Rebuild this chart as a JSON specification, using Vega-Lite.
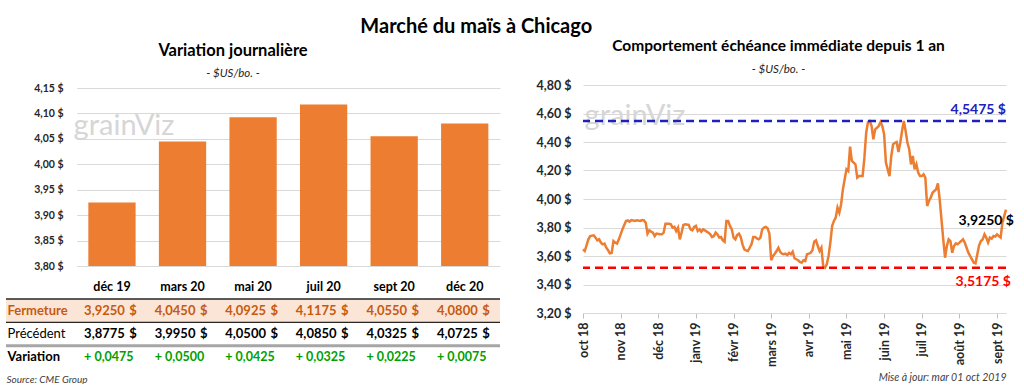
{
  "$schema": "https://vega.github.io/schema/vega-lite/v6.json",
  "padding": {"left": 4, "top": 17, "right": 0, "bottom": 0},
  "spacing": 34,
  "title": {"text": "Marché du maïs à Chicago", "font": "Lato", "fontSize": 20, "fontWeight": "bold", "color": "#000000", "anchor": "middle", "dx": -33, "offset": 2},
  "datasets": {
    "tableau": [
      {"contrat": "déc 19", "ligne": "Fermeture", "valeur": 3.925},
      {"contrat": "mars 20", "ligne": "Fermeture", "valeur": 4.045},
      {"contrat": "mai 20", "ligne": "Fermeture", "valeur": 4.0925},
      {"contrat": "juil 20", "ligne": "Fermeture", "valeur": 4.1175},
      {"contrat": "sept 20", "ligne": "Fermeture", "valeur": 4.055},
      {"contrat": "déc 20", "ligne": "Fermeture", "valeur": 4.08},
      {"contrat": "déc 19", "ligne": "Précédent", "valeur": 3.8775},
      {"contrat": "mars 20", "ligne": "Précédent", "valeur": 3.995},
      {"contrat": "mai 20", "ligne": "Précédent", "valeur": 4.05},
      {"contrat": "juil 20", "ligne": "Précédent", "valeur": 4.085},
      {"contrat": "sept 20", "ligne": "Précédent", "valeur": 4.0325},
      {"contrat": "déc 20", "ligne": "Précédent", "valeur": 4.0725},
      {"contrat": "déc 19", "ligne": "Variation", "valeur": 0.0475},
      {"contrat": "mars 20", "ligne": "Variation", "valeur": 0.05},
      {"contrat": "mai 20", "ligne": "Variation", "valeur": 0.0425},
      {"contrat": "juil 20", "ligne": "Variation", "valeur": 0.0325},
      {"contrat": "sept 20", "ligne": "Variation", "valeur": 0.0225},
      {"contrat": "déc 20", "ligne": "Variation", "valeur": 0.0075}
    ],
    "cours": [
      {"t":0,"v":3.647},{"t":1,"v":3.635},{"t":3,"v":3.717},{"t":4,"v":3.740},{"t":6,"v":3.745},{"t":7,"v":3.729},{"t":8,"v":3.710},{"t":9,"v":3.717},{"t":10,"v":3.694},{"t":11,"v":3.682},
      {"t":12,"v":3.687},{"t":13,"v":3.658},{"t":14,"v":3.640},{"t":15,"v":3.619},{"t":16,"v":3.621},{"t":17,"v":3.705},{"t":18,"v":3.694},{"t":19,"v":3.687},{"t":20,"v":3.717},{"t":21,"v":3.752},
      {"t":22,"v":3.787},{"t":23,"v":3.818},{"t":24,"v":3.846},{"t":25,"v":3.850},{"t":26,"v":3.841},{"t":27,"v":3.852},{"t":29,"v":3.846},{"t":30,"v":3.850},{"t":32,"v":3.846},{"t":33,"v":3.852},
      {"t":34,"v":3.850},{"t":35,"v":3.834},{"t":36,"v":3.757},{"t":37,"v":3.780},{"t":38,"v":3.771},{"t":39,"v":3.764},{"t":40,"v":3.740},{"t":41,"v":3.757},{"t":43,"v":3.752},{"t":44,"v":3.752},
      {"t":45,"v":3.764},{"t":46,"v":3.827},{"t":48,"v":3.827},{"t":49,"v":3.822},{"t":50,"v":3.799},{"t":51,"v":3.804},{"t":52,"v":3.775},{"t":53,"v":3.799},{"t":54,"v":3.717},{"t":55,"v":3.764},
      {"t":56,"v":3.818},{"t":57,"v":3.822},{"t":59,"v":3.818},{"t":60,"v":3.787},{"t":61,"v":3.780},{"t":62,"v":3.804},{"t":63,"v":3.811},{"t":64,"v":3.775},{"t":65,"v":3.787},{"t":66,"v":3.771},
      {"t":67,"v":3.787},{"t":68,"v":3.780},{"t":70,"v":3.764},{"t":71,"v":3.752},{"t":72,"v":3.733},{"t":73,"v":3.740},{"t":74,"v":3.764},{"t":75,"v":3.752},{"t":76,"v":3.729},{"t":77,"v":3.733},
      {"t":78,"v":3.710},{"t":79,"v":3.700},{"t":80,"v":3.846},{"t":81,"v":3.846},{"t":82,"v":3.811},{"t":83,"v":3.787},{"t":84,"v":3.729},{"t":85,"v":3.717},{"t":86,"v":3.747},{"t":87,"v":3.757},
      {"t":88,"v":3.733},{"t":89,"v":3.682},{"t":90,"v":3.647},{"t":91,"v":3.640},{"t":92,"v":3.635},{"t":93,"v":3.658},{"t":94,"v":3.682},{"t":95,"v":3.733},{"t":96,"v":3.733},{"t":97,"v":3.724},
      {"t":98,"v":3.717},{"t":99,"v":3.729},{"t":100,"v":3.787},{"t":101,"v":3.799},{"t":102,"v":3.804},{"t":103,"v":3.794},{"t":104,"v":3.757},{"t":105,"v":3.570},{"t":106,"v":3.600},{"t":107,"v":3.616},
      {"t":108,"v":3.635},{"t":109,"v":3.658},{"t":110,"v":3.630},{"t":111,"v":3.616},{"t":112,"v":3.612},{"t":113,"v":3.616},{"t":114,"v":3.607},{"t":115,"v":3.621},{"t":116,"v":3.612},{"t":117,"v":3.630},
      {"t":118,"v":3.584},{"t":119,"v":3.577},{"t":120,"v":3.570},{"t":121,"v":3.558},{"t":122,"v":3.553},{"t":123,"v":3.570},{"t":124,"v":3.565},{"t":125,"v":3.612},{"t":126,"v":3.616},{"t":127,"v":3.623},
      {"t":128,"v":3.640},{"t":129,"v":3.701},{"t":130,"v":3.710},{"t":131,"v":3.670},{"t":132,"v":3.635},{"t":133,"v":3.658},{"t":134,"v":3.530},{"t":135,"v":3.5175},{"t":136,"v":3.542},{"t":137,"v":3.600},
      {"t":138,"v":3.694},{"t":139,"v":3.811},{"t":140,"v":3.846},{"t":141,"v":3.869},{"t":142,"v":3.939},{"t":143,"v":3.904},{"t":144,"v":3.963},{"t":145,"v":4.068},{"t":146,"v":4.138},{"t":147,"v":4.208},
      {"t":148,"v":4.196},{"t":149,"v":4.367},{"t":150,"v":4.267},{"t":151,"v":4.255},{"t":152,"v":4.243},{"t":153,"v":4.150},{"t":154,"v":4.161},{"t":155,"v":4.161},{"t":156,"v":4.161},{"t":157,"v":4.290},
      {"t":158,"v":4.465},{"t":159,"v":4.540},{"t":160,"v":4.5475},{"t":161,"v":4.512},{"t":162,"v":4.419},{"t":163,"v":4.489},{"t":164,"v":4.500},{"t":165,"v":4.512},{"t":166,"v":4.540},{"t":167,"v":4.512},
      {"t":168,"v":4.454},{"t":169,"v":4.255},{"t":170,"v":4.208},{"t":171,"v":4.161},{"t":172,"v":4.302},{"t":173,"v":4.384},{"t":174,"v":4.395},{"t":175,"v":4.400},{"t":176,"v":4.330},{"t":177,"v":4.395},
      {"t":178,"v":4.477},{"t":179,"v":4.5475},{"t":180,"v":4.477},{"t":181,"v":4.395},{"t":182,"v":4.349},{"t":183,"v":4.243},{"t":184,"v":4.302},{"t":185,"v":4.208},{"t":186,"v":4.243},{"t":187,"v":4.185},
      {"t":188,"v":4.161},{"t":189,"v":4.161},{"t":190,"v":4.173},{"t":191,"v":4.150},{"t":192,"v":3.951},{"t":193,"v":3.986},{"t":194,"v":4.009},{"t":195,"v":4.044},{"t":196,"v":4.056},{"t":197,"v":4.068},
      {"t":198,"v":4.110},{"t":199,"v":3.998},{"t":200,"v":3.857},{"t":201,"v":3.717},{"t":202,"v":3.588},{"t":203,"v":3.670},{"t":204,"v":3.717},{"t":205,"v":3.705},{"t":206,"v":3.623},{"t":207,"v":3.670},
      {"t":208,"v":3.689},{"t":209,"v":3.682},{"t":210,"v":3.694},{"t":211,"v":3.705},{"t":212,"v":3.717},{"t":213,"v":3.694},{"t":214,"v":3.658},{"t":215,"v":3.623},{"t":216,"v":3.600},{"t":217,"v":3.577},
      {"t":218,"v":3.553},{"t":219,"v":3.549},{"t":220,"v":3.612},{"t":221,"v":3.675},{"t":222,"v":3.705},{"t":223,"v":3.717},{"t":224,"v":3.752},{"t":225,"v":3.729},{"t":226,"v":3.694},{"t":227,"v":3.729},
      {"t":228,"v":3.722},{"t":229,"v":3.740},{"t":230,"v":3.736},{"t":231,"v":3.752},{"t":232,"v":3.740},{"t":233,"v":3.729},{"t":234,"v":3.834},{"t":235,"v":3.880},{"t":236,"v":3.925}
    ]
  },
  "hconcat": [
    {
      "width": 494,
      "height": 284,
      "title": {"text": "Variation journalière", "subtitle": "- $US/bo. -", "anchor": "middle", "frame": "group", "dx": -20, "font": "Lato", "fontSize": 16.5, "fontWeight": "bold", "color": "#000000", "subtitleFont": "Lato", "subtitleFontSize": 11.5, "subtitleFontStyle": "italic", "subtitleColor": "#262626", "subtitlePadding": 8, "offset": 4},
      "data": {"name": "tableau"},
      "layer": [
        {
          "layer": [
            {
              "transform": [{"filter": "datum.ligne === 'Fermeture'"}],
              "mark": {"type": "bar", "color": "#ED7D31"},
              "encoding": {
                "x": {"field": "contrat", "type": "nominal", "sort": null,
                  "scale": {"range": [70.7, 494], "paddingInner": 0.33, "paddingOuter": 0.165},
                  "axis": {"orient": "bottom", "offset": -103, "title": null, "domain": false, "ticks": false, "tickSize": 0, "labelPadding": 14, "labelAngle": 0, "labelFont": "Lato", "labelFontSize": 12.5, "labelFontWeight": "bold", "labelColor": "#000000"}},
                "y": {"field": "valeur", "type": "quantitative",
                  "scale": {"domain": [3.8, 4.15], "range": [181, 3], "zero": false, "nice": false},
                  "axis": {"orient": "left", "offset": -71, "title": null, "values": [3.8, 3.85, 3.9, 3.95, 4.0, 4.05, 4.1, 4.15], "tickCount": 20, "format": "$.2f", "labelOverlap": false, "domain": false, "ticks": false, "tickSize": 0, "labelPadding": 14, "grid": true, "gridColor": "#d9d9d9", "labelFont": "Lato", "labelFontSize": 10.5, "labelFontWeight": "bold", "labelColor": "#262626"}},
                "y2": {"datum": 3.8}
              }
            },
            {
              "data": {"values": [{"logo": "grainViz"}]},
              "mark": {"type": "text", "font": "Lato", "fontSize": 29, "color": "#d6d6d6", "align": "center", "baseline": "middle", "dx": 12},
              "encoding": {
                "x": {"datum": "déc 19", "type": "nominal"},
                "y": {"datum": 4.075, "type": "quantitative"},
                "text": {"field": "logo"}
              }
            }
          ]
        },
        {
          "encoding": {
            "y": {"field": "ligne", "type": "nominal", "sort": null,
              "scale": {"domain": ["Fermeture", "Précédent", "Variation"], "range": [214, 284], "paddingInner": 0, "paddingOuter": 0},
              "axis": {"orient": "left", "title": null, "domain": false, "ticks": false, "tickSize": 0, "grid": false, "labelAlign": "left", "labelPadding": -1, "labelFont": "Lato", "labelFontSize": 13,
                "labelColor": {"condition": {"test": "datum.value === 'Fermeture'", "value": "#C55A11"}, "value": "#000000"},
                "labelFontWeight": {"condition": {"test": "datum.value === 'Précédent'", "value": "normal"}, "value": "bold"}}}
          },
          "layer": [
            {
              "transform": [{"aggregate": [{"op": "count", "as": "n"}], "groupby": ["ligne"]}],
              "layer": [
                {
                  "transform": [{"filter": "datum.ligne === 'Fermeture'"}],
                  "mark": {"type": "rect", "color": "#FBE5D6"}
                },
                {
                  "mark": {"type": "rule"},
                  "encoding": {
                    "y": {"field": "ligne", "type": "nominal", "bandPosition": 0},
                    "color": {"condition": {"test": "datum.ligne === 'Variation'", "value": "#a6a6a6"}, "value": "#262626"},
                    "strokeWidth": {"condition": {"test": "datum.ligne === 'Variation'", "value": 3}, "value": 1.3}
                  }
                }
              ]
            },
            {
              "encoding": {
                "x": {"field": "contrat", "type": "nominal",
                  "scale": {"domain": ["", "déc 19", "mars 20", "mai 20", "juil 20", "sept 20", "déc 20"], "range": [0, 494], "paddingInner": 0, "paddingOuter": 0},
                  "axis": {"orient": "bottom", "labels": false, "ticks": false, "domain": false, "grid": false, "title": "Source: CME Group", "titleAnchor": "start", "titleFont": "Lato", "titleFontSize": 10, "titleFontStyle": "italic", "titleFontWeight": "normal", "titleColor": "#404040", "titlePadding": 5}}
              },
              "layer": [
                {
                  "transform": [{"filter": "datum.ligne !== 'Variation'"}],
                  "mark": {"type": "text", "font": "Lato", "fontSize": 13, "fontWeight": "bold", "align": "right", "baseline": "middle", "dx": 13},
                  "encoding": {
                    "text": {"field": "valeur", "type": "quantitative", "format": ".4f"},
                    "color": {"condition": {"test": "datum.ligne === 'Fermeture'", "value": "#C55A11"}, "value": "#000000"}
                  }
                },
                {
                  "transform": [{"filter": "datum.ligne !== 'Variation'"}],
                  "mark": {"type": "text", "font": "Lato", "fontSize": 13, "fontWeight": "bold", "align": "right", "baseline": "middle", "dx": 25},
                  "encoding": {
                    "text": {"value": "$"},
                    "color": {"condition": {"test": "datum.ligne === 'Fermeture'", "value": "#C55A11"}, "value": "#000000"}
                  }
                },
                {
                  "transform": [{"filter": "datum.ligne === 'Variation'"}],
                  "mark": {"type": "text", "font": "Lato", "fontSize": 12.5, "fontWeight": "bold", "align": "center", "baseline": "middle", "dx": -3, "color": "#00A000"},
                  "encoding": {
                    "text": {"field": "valeur", "type": "quantitative", "format": "=+8.4f"}
                  }
                }
              ]
            }
          ]
        }
      ],
      "resolve": {"scale": {"x": "independent", "y": "independent"}, "axis": {"x": "independent", "y": "independent"}}
    },
    {
      "width": 423,
      "height": 228,
      "title": {"text": "Comportement échéance immédiate depuis 1 an", "subtitle": "- $US/bo. -", "anchor": "middle", "frame": "group", "dx": -16, "font": "Lato", "fontSize": 15.5, "fontWeight": "bold", "color": "#000000", "subtitleFont": "Lato", "subtitleFontSize": 11.5, "subtitleFontStyle": "italic", "subtitleColor": "#262626", "subtitlePadding": 9, "offset": 4},
      "data": {"name": "cours"},
      "layer": [
        {
          "mark": {"type": "line", "color": "#ED7D31", "strokeWidth": 2.5},
          "encoding": {
            "x": {"field": "t", "type": "quantitative",
              "scale": {"domain": [0, 236], "nice": false, "zero": false},
              "axis": {"values": [0, 21, 42, 63, 84, 105, 126, 147, 168, 189, 210, 231], "tickCount": 30,
                "labelExpr": "['oct 18','nov 18','déc 18','janv 19','févr 19','mars 19','avr 19','mai 19','juin 19','juil 19','août 19','sept 19'][round(datum.value / 21)]",
                "labelOverlap": false, "labelAngle": -90, "labelFont": "Lato", "labelFontSize": 12.5, "labelFontWeight": "bold", "labelColor": "#262626", "labelPadding": 4,
                "ticks": true, "tickSize": 5, "tickColor": "#bfbfbf", "domain": true, "domainColor": "#d9d9d9", "grid": false,
                "title": "Mise à jour: mar 01 oct 2019", "titleAnchor": "end", "titleFont": "Lato", "titleFontSize": 10.5, "titleFontStyle": "italic", "titleFontWeight": "normal", "titleColor": "#404040", "titlePadding": 6}},
            "y": {"field": "v", "type": "quantitative",
              "scale": {"domain": [3.2, 4.8], "nice": false, "zero": false},
              "axis": {"title": null, "values": [3.2, 3.4, 3.6, 3.8, 4.0, 4.2, 4.4, 4.6, 4.8], "tickCount": 30, "format": "$.2f", "labelOverlap": false, "labelFont": "Lato", "labelFontSize": 12.5, "labelFontWeight": "bold", "labelColor": "#262626", "labelPadding": 12, "ticks": false, "domain": false, "grid": true, "gridColor": "#d9d9d9", "minExtent": 46, "maxExtent": 46}}
          }
        },
        {
          "data": {"values": [{"logo": "grainViz"}]},
          "mark": {"type": "text", "font": "Lato", "fontSize": 29, "color": "#d6d6d6", "align": "center", "baseline": "middle"},
          "encoding": {
            "x": {"datum": 29, "type": "quantitative"},
            "y": {"datum": 4.58, "type": "quantitative"},
            "text": {"field": "logo"}
          }
        },
        {
          "transform": [{"aggregate": [{"op": "max", "field": "v", "as": "haut"}, {"op": "min", "field": "v", "as": "bas"}, {"op": "max", "field": "t", "as": "tmax"}]}],
          "layer": [
            {
              "mark": {"type": "rule", "color": "#2020C0", "strokeWidth": 2.5, "strokeDash": [8, 5]},
              "encoding": {"y": {"field": "haut", "type": "quantitative"}}
            },
            {
              "mark": {"type": "rule", "color": "#FF0000", "strokeWidth": 2.5, "strokeDash": [8, 5]},
              "encoding": {"y": {"field": "bas", "type": "quantitative"}}
            },
            {
              "mark": {"type": "text", "font": "Lato", "fontSize": 14, "fontWeight": "bold", "color": "#2020C0", "align": "right", "baseline": "alphabetic", "dy": -7},
              "encoding": {
                "x": {"field": "tmax", "type": "quantitative"},
                "y": {"field": "haut", "type": "quantitative"},
                "text": {"field": "haut", "type": "quantitative", "format": "$.4f"}
              }
            },
            {
              "mark": {"type": "text", "font": "Lato", "fontSize": 14, "fontWeight": "bold", "color": "#FF0000", "align": "right", "baseline": "top", "dx": 5, "dy": 7},
              "encoding": {
                "x": {"field": "tmax", "type": "quantitative"},
                "y": {"field": "bas", "type": "quantitative"},
                "text": {"field": "bas", "type": "quantitative", "format": "$.4f"}
              }
            }
          ]
        },
        {
          "transform": [{"joinaggregate": [{"op": "max", "field": "t", "as": "tmax"}]}, {"filter": "datum.t === datum.tmax"}],
          "mark": {"type": "text", "font": "Lato", "fontSize": 14, "fontWeight": "bold", "color": "#000000", "align": "right", "baseline": "middle", "dx": 8, "dy": 11},
          "encoding": {
            "x": {"field": "t", "type": "quantitative"},
            "y": {"field": "v", "type": "quantitative"},
            "text": {"field": "v", "type": "quantitative", "format": "$.4f"}
          }
        }
      ]
    }
  ],
  "config": {
    "view": {"stroke": null},
    "font": "Lato",
    "locale": {"number": {"decimal": ",", "thousands": "\u00a0", "grouping": [3], "currency": ["", "\u00a0$"]}}
  }
}
